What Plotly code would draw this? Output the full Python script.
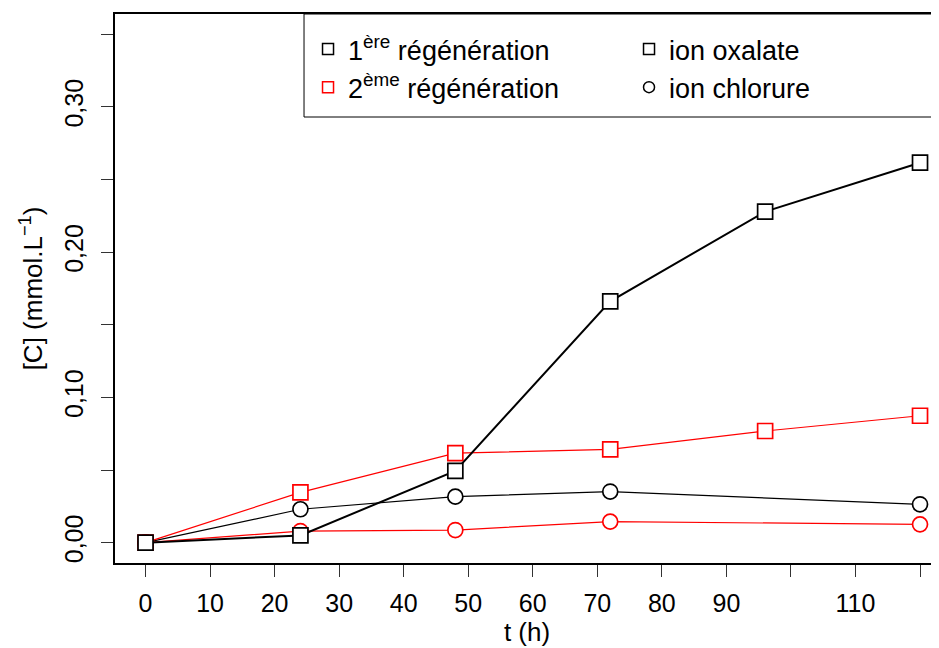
import plotly.graph_objects as go

# Data
t_oxalate = [0, 24, 48, 72, 96, 120]
ox_regen1 = [0.0, 0.0050, 0.0494, 0.1662, 0.2279, 0.2616]
ox_regen2 = [0.0, 0.0346, 0.0616, 0.0643, 0.0769, 0.0874]
t_chlor = [0, 24, 48, 72, 120]
cl_regen1 = [0.0, 0.0230, 0.0317, 0.0352, 0.0264]
cl_regen2 = [0.0, 0.0080, 0.0087, 0.0145, 0.0126]

x_ticks = [0, 10, 20, 30, 40, 50, 60, 70, 80, 90, 100, 110, 120]
x_ticktext = ["0", "10", "20", "30", "40", "50", "60", "70", "80", "90", "", "110", ""]
y_ticks = [0.0, 0.05, 0.10, 0.15, 0.20, 0.25, 0.30, 0.35]
y_ticktext = ["0,00", "", "0,10", "", "0,20", "", "0,30", ""]

legend_labels = ["1<sup>ère</sup> régénération", "ion oxalate",
                 "2<sup>ème</sup> régénération", "ion chlorure"]
legend_colors = ["black", "black", "red", "black"]
legend_symbols = ["square", "square", "square", "circle"]

FONT = "Liberation Sans, Arial, sans-serif"
MS = 15
PLOT_W = 824
PLOT_H = 549

fig = go.Figure()

def add_series(x, y, color, symbol, lw):
    fig.add_trace(go.Scatter(
        x=x, y=y, mode="lines+markers", showlegend=False,
        line=dict(color=color, width=lw),
        marker=dict(symbol=symbol, size=MS, color="white",
                    line=dict(color=color, width=1.7)),
    ))

add_series(t_chlor, cl_regen1, "black", "circle", 1.2)
add_series(t_chlor, cl_regen2, "red", "circle", 1.2)
add_series(t_oxalate, ox_regen2, "red", "square", 1.2)
add_series(t_oxalate, ox_regen1, "black", "square", 2)

for lab, col, sym in zip(legend_labels, legend_colors, legend_symbols):
    fig.add_trace(go.Scatter(
        x=[None], y=[None], mode="markers", name=lab,
        marker=dict(symbol=sym, size=11, color="white",
                    line=dict(color=col, width=1.5)),
    ))

# legend box (extends past the right edge like the reference)
fig.add_shape(type="rect", xref="paper", yref="paper",
              x0=0.2294, x1=1.05, y0=1 - 103 / PLOT_H, y1=1.0,
              line=dict(color="black", width=1), fillcolor="white", layer="above")

fig.update_layout(
    width=931, height=640,
    margin=dict(l=107, r=0, t=6, b=85, autoexpand=False),
    plot_bgcolor="white", paper_bgcolor="white",
    font=dict(family=FONT, size=24, color="black"),
    showlegend=True,
    legend=dict(
        orientation="h", x=0.2294 + 4 / PLOT_W, y=1 - 11 / PLOT_H,
        xanchor="left", yanchor="top",
        borderwidth=0, bgcolor="rgba(0,0,0,0)",
        entrywidth=276, entrywidthmode="pixels",
        font=dict(family=FONT, size=27, color="black"),
        traceorder="normal",
    ),
    xaxis=dict(
        range=[-4.73, 122.94], tickmode="array", tickvals=x_ticks, ticktext=x_ticktext,
        ticks="outside", ticklen=12, tickwidth=1, tickcolor="#333",
        showline=True, linecolor="black", linewidth=1.5, mirror=True,
        showgrid=False, zeroline=False, automargin=False,
        tickfont=dict(size=25), ticklabelstandoff=5,
        title=dict(text="t (h)", font=dict(size=26), standoff=6),
    ),
    yaxis=dict(
        range=[-0.014, 0.364], tickmode="array", tickvals=y_ticks, ticktext=y_ticktext,
        ticks="outside", ticklen=12, tickwidth=1, tickcolor="#333",
        showline=True, linecolor="black", linewidth=1.5, mirror=False,
        showgrid=False, zeroline=False, tickangle=-90, automargin=False,
        tickfont=dict(size=25), ticklabelstandoff=8,
        title=dict(text="[C] (mmol.L<sup>−1</sup>)", font=dict(size=26), standoff=10),
    ),
)

fig.write_html("out.html")
